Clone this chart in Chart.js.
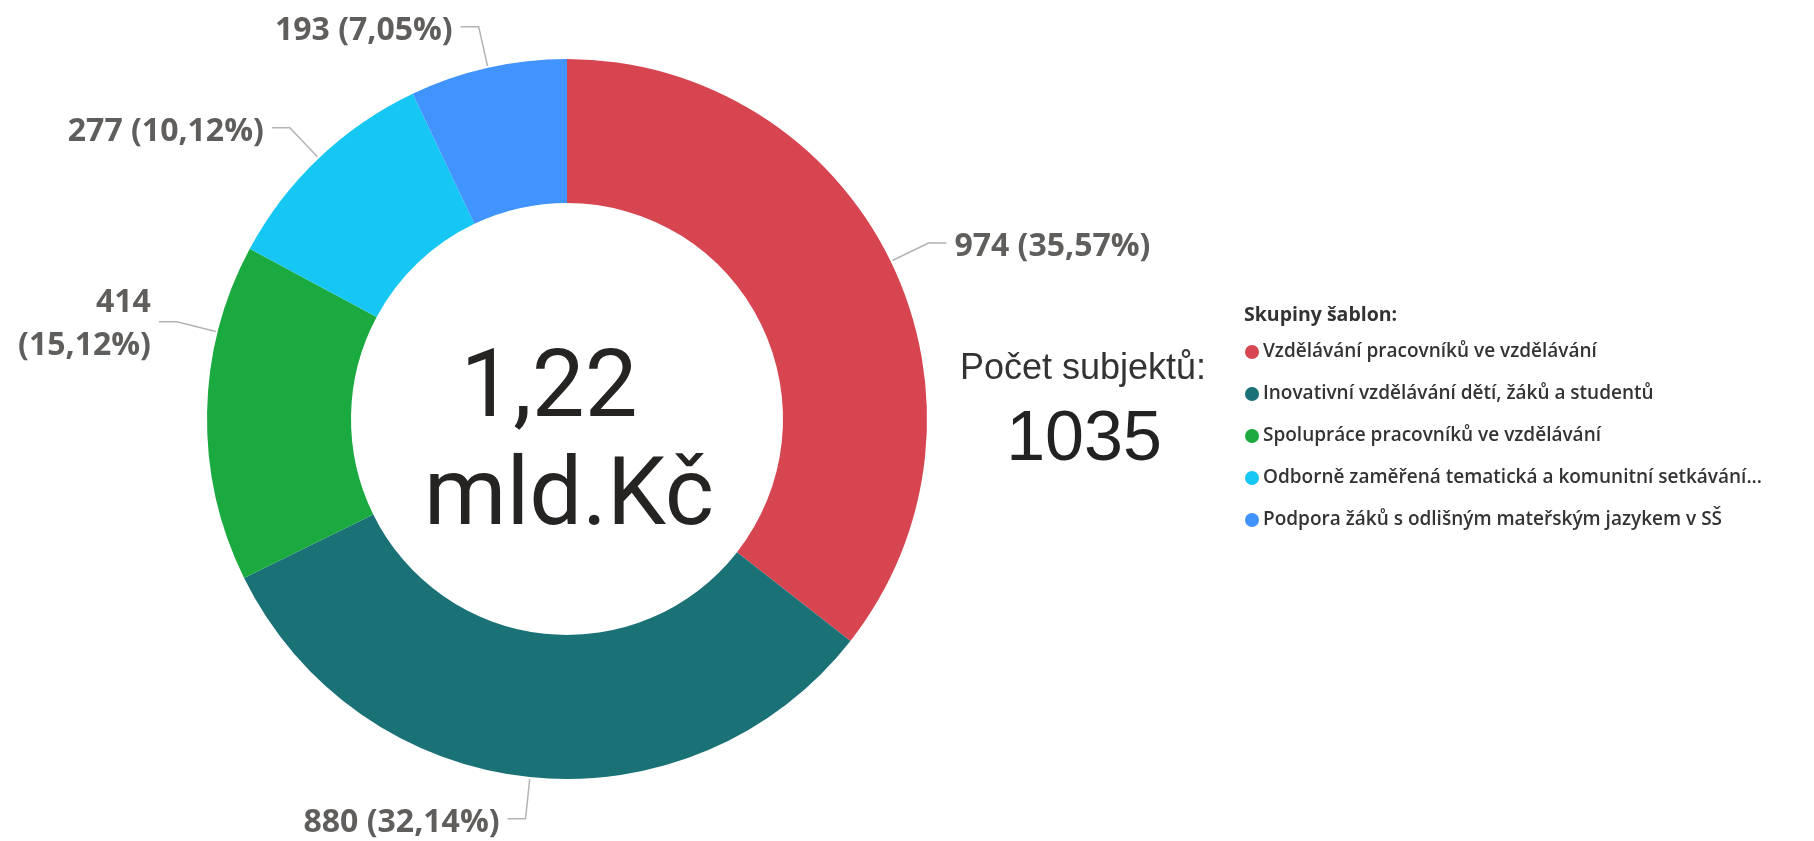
<!DOCTYPE html>
<html>
<head>
<meta charset="utf-8">
<script src="https://cdn.jsdelivr.net/npm/chart.js@4.4.1/dist/chart.umd.min.js"></script>
<style>
  html, body { margin: 0; padding: 0; background: #fff; overflow: hidden; }
  #wrap { position: relative; width: 1814px; height: 841px; }
</style>
</head>
<body>
<div id="wrap"><canvas id="chart" width="1814" height="841"></canvas></div>
<script>
const categories = [
  "Vzdělávání pracovníků ve vzdělávání",
  "Inovativní vzdělávání dětí, žáků a studentů",
  "Spolupráce pracovníků ve vzdělávání",
  "Odborně zaměřená tematická a komunitní setkávání...",
  "Podpora žáků s odlišným mateřským jazykem v SŠ",
];
const values = [974, 880, 414, 277, 193];
const colors = ["#D64550", "#1A7176", "#1BAA40", "#16C6F3", "#4193FE"];
const legendTitle = "Skupiny šablon:";
const centerLines = ["1,22", "mld.Kč"];
const countLabel = "Počet subjektů:";
const countValue = "1035";
// small angle shift (deg) for labels Power BI moved to avoid overlap
const labelNudge = [0, 0, 13, 0, 0];

const total = values.reduce((a, b) => a + b, 0);

const outLabels = {
  id: "outLabels",
  afterDatasetsDraw(chart) {
    const ctx = chart.ctx;
    const meta = chart.getDatasetMeta(0);
    ctx.save();
    ctx.font = "700 32px 'Open Sans'";
    ctx.textBaseline = "middle";
    meta.data.forEach((arc, i) => {
      const p = arc.getProps(["x", "y", "startAngle", "endAngle", "outerRadius"], true);
      const mid = (p.startAngle + p.endAngle) / 2 + labelNudge[i] * Math.PI / 180;
      const c = Math.cos(mid), s = Math.sin(mid);
      const x0 = p.x + c * (p.outerRadius + 2), y0 = p.y + s * (p.outerRadius + 2);
      const x1 = p.x + c * (p.outerRadius + 42), y1 = p.y + s * (p.outerRadius + 42);
      const dir = c >= 0 ? 1 : -1;
      const x2 = x1 + dir * 18;
      ctx.strokeStyle = "#b3b3b3";
      ctx.lineWidth = 1.5;
      ctx.beginPath();
      ctx.moveTo(x0, y0);
      ctx.lineTo(x1, y1);
      ctx.lineTo(x2, y1);
      ctx.stroke();

      const pct = (values[i] / total * 100).toFixed(2).replace(".", ",");
      const txt = values[i] + " (" + pct + "%)";
      const tx = x2 + dir * 8;
      ctx.fillStyle = "#605E5C";
      ctx.textAlign = dir > 0 ? "left" : "right";
      const w = ctx.measureText(txt).width;
      if (dir < 0 && tx - w < 4) {
        ctx.fillText(String(values[i]), tx, y1 - 19);
        ctx.fillText("(" + pct + "%)", tx, y1 + 24);
      } else {
        ctx.fillText(txt, tx, y1 + 4);
      }
    });
    ctx.restore();
  }
};

const extras = {
  id: "extras",
  afterDraw(chart) {
    const ctx = chart.ctx;
    const arc = chart.getDatasetMeta(0).data[0];
    ctx.save();
    // centre total
    ctx.fillStyle = "#252423";
    ctx.textAlign = "center";
    ctx.textBaseline = "alphabetic";
    ctx.font = "400 94px Roboto";
    ctx.fillText(centerLines[0], arc.x - 18, arc.y - 3);
    ctx.fillText(centerLines[1], arc.x + 2, arc.y + 105);

    // card
    ctx.fillStyle = "#333333";
    ctx.font = "400 36px 'Liberation Sans'";
    ctx.fillText(countLabel, 1083, 379);
    ctx.fillStyle = "#222222";
    ctx.font = "400 70px 'Liberation Sans'";
    ctx.fillText(countValue, 1084, 460);

    // legend
    ctx.textAlign = "left";
    ctx.textBaseline = "middle";
    ctx.fillStyle = "#333333";
    ctx.font = "700 19.5px 'Open Sans'";
    ctx.fillText(legendTitle, 1244, 315);
    ctx.font = "600 19px 'Open Sans'";
    categories.forEach((lab, i) => {
      const y = 352 + i * 42;
      ctx.fillStyle = colors[i];
      ctx.beginPath();
      ctx.arc(1252, y, 7, 0, Math.PI * 2);
      ctx.fill();
      ctx.fillStyle = "#333333";
      ctx.fillText(lab, 1263, y);
    });
    ctx.restore();
  }
};

new Chart(document.getElementById("chart"), {
  type: "doughnut",
  data: {
    labels: categories,
    datasets: [{
      data: values,
      backgroundColor: colors,
      borderWidth: 0,
    }],
  },
  options: {
    responsive: false,
    animation: false,
    cutout: "60%",
    layout: { padding: { left: 207, right: 887, top: 59, bottom: 62 } },
    plugins: {
      legend: { display: false },
      tooltip: { enabled: false },
    },
  },
  plugins: [outLabels, extras],
});
</script>
</body>
</html>
